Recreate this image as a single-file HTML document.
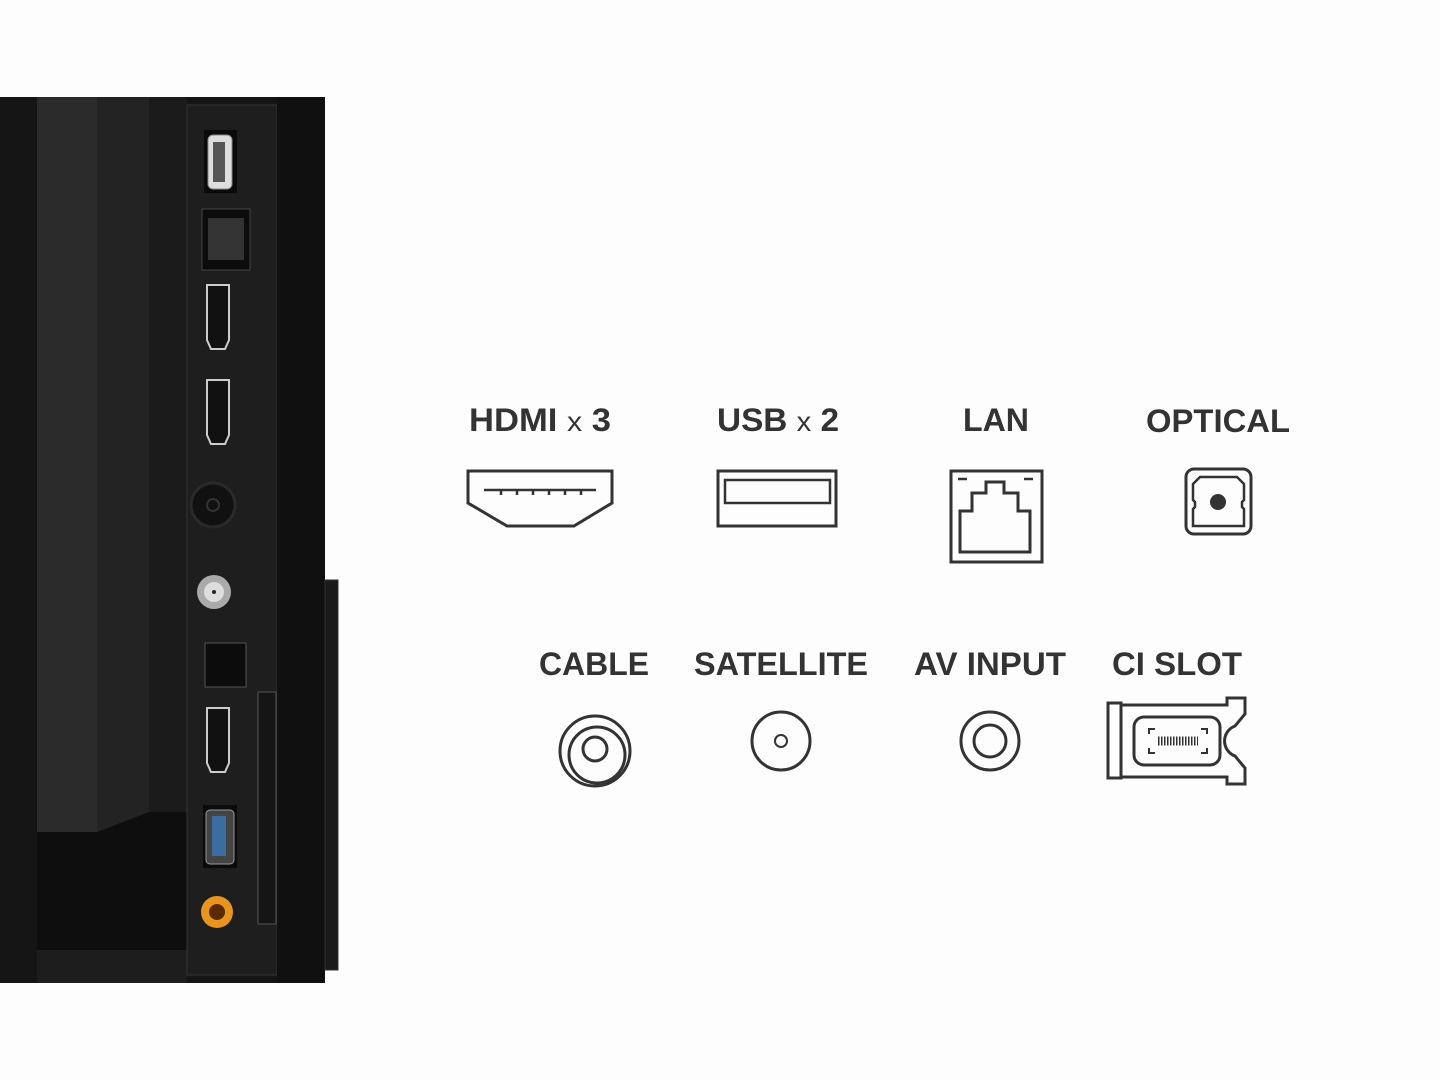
<!DOCTYPE html>
<html><head><style>
body{margin:0;width:1440px;height:1080px;background:#fdfdfd;overflow:hidden;font-family:"Liberation Sans",Arial,sans-serif}
</style></head><body>
<svg width="1440" height="1080" xmlns="http://www.w3.org/2000/svg" style="position:absolute;left:0;top:0">
<!-- TV back -->
<rect x="0" y="97" width="325" height="886" fill="#151515"/>
<rect x="37" y="97" width="60" height="735" fill="#2b2b2b"/>
<rect x="97" y="97" width="52" height="735" fill="#232323"/>
<rect x="149" y="97" width="38" height="735" fill="#1b1b1b"/>
<polygon points="37,832 97,832 149,812 187,812 187,950 37,950" fill="#0e0e0e"/>
<rect x="37" y="950" width="150" height="33" fill="#1d1d1d"/>
<rect x="187" y="105" width="90" height="870" fill="#1e1e1e" stroke="#333" stroke-width="1"/>
<rect x="277" y="97" width="48" height="886" fill="#101010"/>
<rect x="325" y="580" width="13" height="390" fill="#1a1a1a" stroke="#333"/>
<!-- ports -->
<rect x="204" y="130" width="33" height="63" fill="#0a0a0a"/>
<rect x="208" y="135" width="24" height="54" rx="5" fill="#ddd" stroke="#888"/>
<rect x="213" y="142" width="12" height="40" fill="#555"/>
<rect x="202" y="209" width="48" height="61" fill="#0c0c0c" stroke="#444"/>
<rect x="208" y="218" width="36" height="42" fill="#333"/>
<path d="M207 285h22v55l-4 9h-14l-4-9z" fill="#111" stroke="#ccc" stroke-width="2"/>
<path d="M207 380h22v55l-4 9h-14l-4-9z" fill="#111" stroke="#ccc" stroke-width="2"/>
<circle cx="213" cy="505" r="22" fill="#111" stroke="#2a2a2a" stroke-width="3"/>
<circle cx="213" cy="505" r="6" fill="none" stroke="#333" stroke-width="2"/>
<circle cx="214" cy="592" r="17" fill="#aaa"/>
<circle cx="214" cy="592" r="10" fill="#ddd"/>
<circle cx="214" cy="592" r="2" fill="#222"/>
<rect x="205" y="643" width="41" height="44" fill="#0c0c0c" stroke="#555"/>
<path d="M207 708h22v55l-4 9h-14l-4-9z" fill="#111" stroke="#ccc" stroke-width="2"/>
<rect x="258" y="692" width="18" height="232" fill="#151515" stroke="#555"/>
<rect x="203" y="805" width="34" height="63" fill="#0a0a0a"/>
<rect x="206" y="810" width="28" height="54" rx="4" fill="#444" stroke="#999"/>
<rect x="212" y="816" width="14" height="40" fill="#3a6ea0"/>
<circle cx="217" cy="912" r="16" fill="#e89520"/>
<circle cx="217" cy="912" r="8" fill="#5a2a00"/>
<!-- labels -->
<g font-weight="bold" font-size="32" fill="#333" text-anchor="middle">
<text x="540" y="431" textLength="142" lengthAdjust="spacingAndGlyphs">HDMI <tspan font-weight="normal" font-size="28">x</tspan> 3</text>
<text x="778" y="431" textLength="122" lengthAdjust="spacingAndGlyphs">USB <tspan font-weight="normal" font-size="28">x</tspan> 2</text>
<text x="996" y="431" textLength="66" lengthAdjust="spacingAndGlyphs">LAN</text>
<text x="1218" y="432" textLength="144" lengthAdjust="spacingAndGlyphs">OPTICAL</text>
<text x="594" y="675" textLength="110" lengthAdjust="spacingAndGlyphs">CABLE</text>
<text x="781" y="675" textLength="174" lengthAdjust="spacingAndGlyphs">SATELLITE</text>
<text x="990" y="675" textLength="152" lengthAdjust="spacingAndGlyphs">AV INPUT</text>
<text x="1177" y="675" textLength="130" lengthAdjust="spacingAndGlyphs">CI SLOT</text>
</g>
<g fill="none" stroke="#333" stroke-width="3">
<path d="M468 471h144v32l-38 23h-67l-39-23z"/>
<path d="M484 490h112" stroke-width="2.5"/>
<path d="M501 490v5M517 490v5M533 490v5M549 490v5M565 490v5M581 490v5" stroke-width="2.5"/>
<rect x="718" y="471" width="118" height="55"/>
<rect x="725" y="480" width="105" height="23" stroke-width="2.5"/>
<rect x="951" y="471" width="91" height="91"/>
<path d="M960 552v-41h12v-18h14v-11h18v11h14v18h12v41z"/>
<path d="M958 479h9M1024 479h9" stroke-width="2.5"/>
<rect x="1186" y="469" width="65" height="65" rx="8"/>
<path d="M1193 526v-17l2-2v-5l-2-2v-16l7-7h37l7 7v16l-2 2v5l2 2v17z" stroke-width="2.5"/>
<circle cx="1218" cy="502" r="8" fill="#333" stroke="none"/>
<circle cx="595" cy="751" r="35"/>
<circle cx="597" cy="755" r="28"/>
<circle cx="595" cy="749" r="12"/>
<circle cx="781" cy="741" r="29"/>
<circle cx="781" cy="741" r="6" stroke-width="2"/>
<circle cx="990" cy="741" r="29"/>
<circle cx="990" cy="741" r="16"/>
<rect x="1108" y="703" width="13" height="75"/>
<path d="M1121 705h106v-7h18v16l-10 12a16 16 0 0 0 0 30l10 12v16h-18v-7h-106z"/>
<rect x="1134" y="717" width="86" height="48" rx="10"/>
<path d="M1149 734v-5h6M1207 734v-5h-6M1149 748v5h6M1207 748v5h-6" stroke-width="2"/>
<path d="M1158 741h40" stroke-width="9" stroke-dasharray="1.5 1.5"/>
</g>
</svg>
</body></html>
